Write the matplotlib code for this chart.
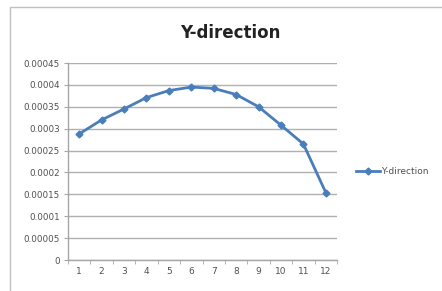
import matplotlib.pyplot as plt
from matplotlib.patches import Rectangle
from matplotlib.lines import Line2D

# data
points = [1, 2, 3, 4, 5, 6, 7, 8, 9, 10, 11, 12]
y_dir = [0.000288, 0.000320, 0.000345, 0.000371, 0.000387, 0.000395,
         0.000392, 0.000378, 0.000350, 0.000308, 0.000265, 0.000154]
y_ticks = [0, 0.00005, 0.0001, 0.00015, 0.0002, 0.00025, 0.0003, 0.00035, 0.0004, 0.00045]
y_labels = ['0', '0.00005', '0.0001', '0.00015', '0.0002', '0.00025', '0.0003',
            '0.00035', '0.0004', '0.00045']

W, H = 442, 291
fig = plt.figure(figsize=(W / 100, H / 100), dpi=100)
fig.patch.set_facecolor('white')

# chart frame (spreadsheet chart border)
fig.patches.append(Rectangle((10 / W, -0.05), 1.2, 1 - 7 / H + 0.05, transform=fig.transFigure,
                             facecolor='none', edgecolor='#c0c0c0', linewidth=1.0))

ax = fig.add_axes([68 / W, 1 - 260 / H, (337 - 68) / W, (260 - 63) / H])
ax.plot(points, y_dir, color='#4a7ebb', linewidth=2.0, marker='D', markersize=3.5,
        markerfacecolor='#4a7ebb', markeredgecolor='#4a7ebb')

ax.set_xlim(0.5, 12.5)
ax.set_ylim(0, 0.00045)
ax.set_yticks(y_ticks)
ax.set_yticklabels(y_labels)
ax.set_xticks(points)
ax.set_xticklabels([str(p) for p in points])
ax.set_xticks([p + 0.5 for p in range(0, 13)], minor=True)

ax.grid(axis='y', color='#b0b0b0', linewidth=1.0)
ax.set_axisbelow(True)
for s in ['top', 'right']:
    ax.spines[s].set_visible(False)
for s in ['left', 'bottom']:
    ax.spines[s].set_color('#a6a6a6')
    ax.spines[s].set_linewidth(1.0)

ax.tick_params(axis='y', length=3, color='#a6a6a6', labelsize=6.3, labelcolor='#505050', pad=3)
ax.tick_params(axis='x', which='major', length=0, labelsize=6.5, labelcolor='#505050', pad=5)
ax.tick_params(axis='x', which='minor', length=3, color='#a6a6a6')

fig.text(230 / W, 1 - 33 / H, 'Y-direction', ha='center', va='center',
         fontsize=12, fontweight='bold', color='#222222')

# legend at right
handle = Line2D([], [], color='#4a7ebb', linewidth=2.0, marker='D', markersize=3.5)
fig.legend(handles=[handle], labels=['Y-direction'], loc='center left',
           bbox_to_anchor=(348 / W, 1 - 172 / H), frameon=False, fontsize=6.5,
           handlelength=2.6, handletextpad=0.15, labelcolor='#505050')

fig.savefig('out.png', dpi=100)
